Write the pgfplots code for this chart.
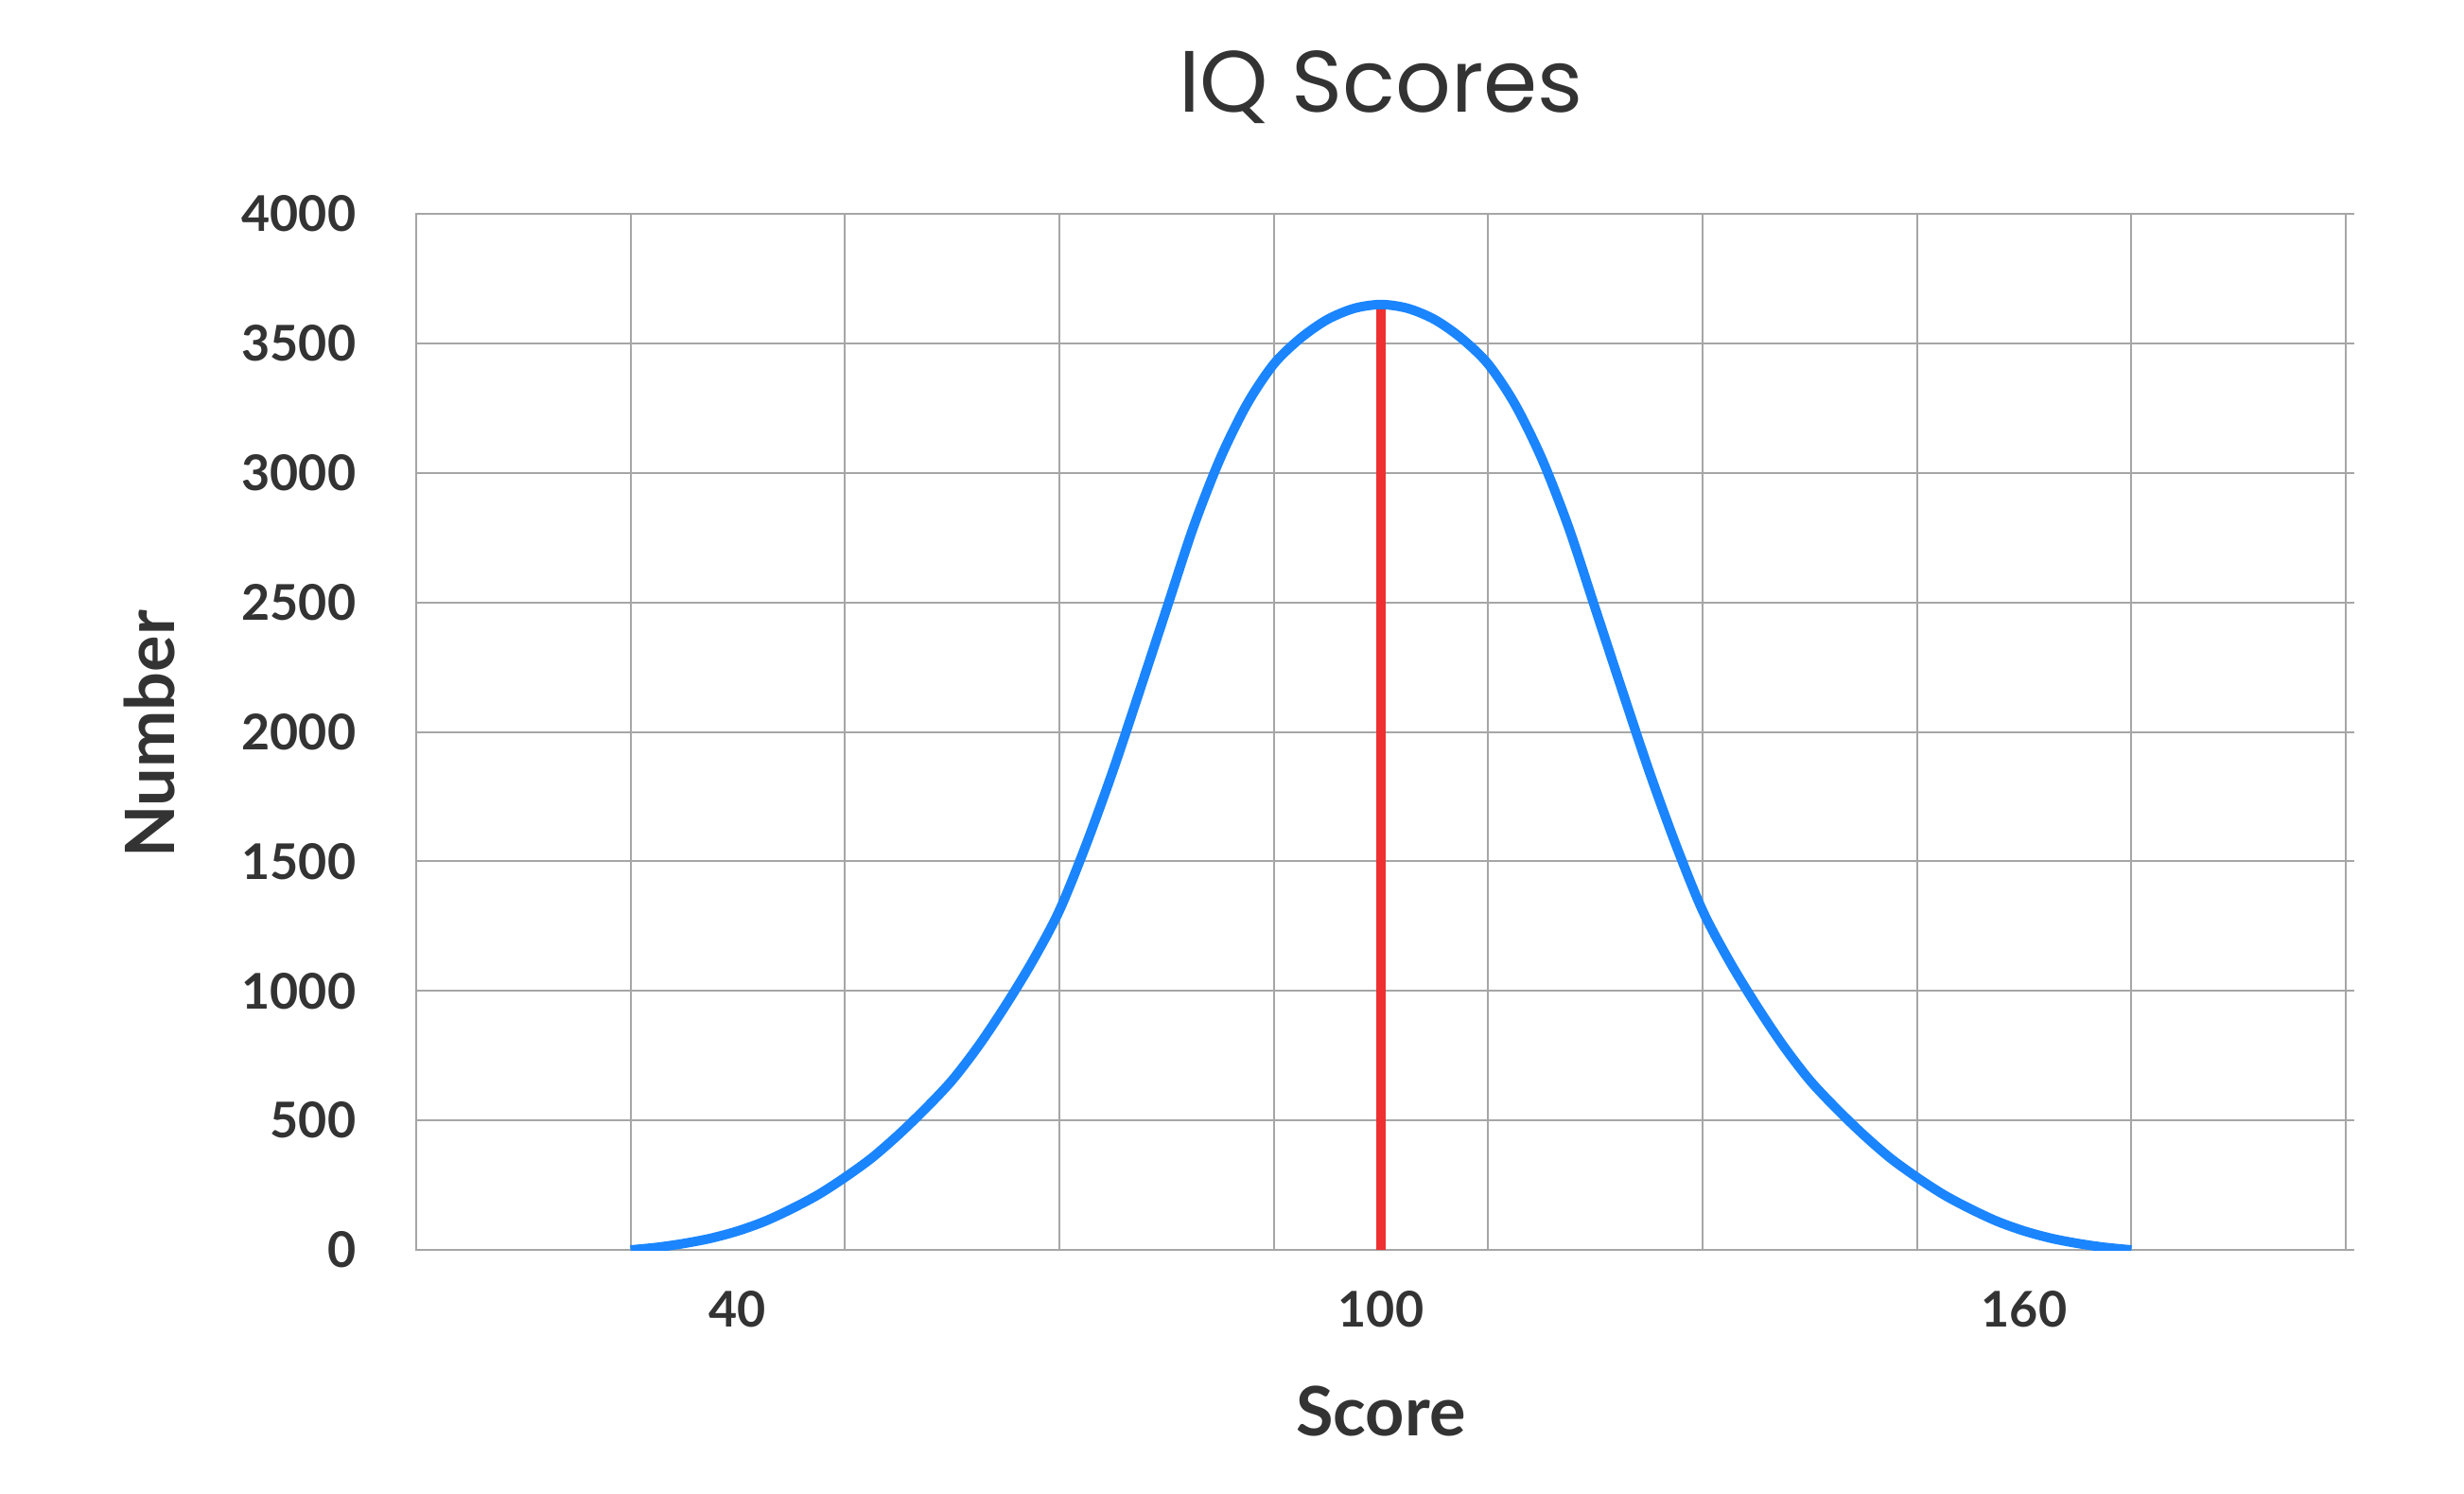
\documentclass[border=0pt]{standalone}
\usepackage{fontspec}
\setmainfont{Lato}
\newfontfamily\titlefont{Poppins}
\usepackage{pgfplots}
\usepackage{pgfplotstable}
\pgfplotsset{compat=1.18}

\definecolor{curveblue}{HTML}{1A85FF}
\definecolor{meanred}{HTML}{EE3030}
\definecolor{gridgray}{HTML}{A6A6A6}
\definecolor{textgray}{HTML}{333333}

% IQ score distribution
\pgfplotstableread{
score number
30    0
32.5  10
35    25
37.5  45
40    73
42.5  110
45    158
47.5  213
50    280
52.5  355
55    445
57.5  545
60    655
62.5  790
65    945
67.5  1115
70    1310
72.5  1565
75    1850
77.5  2160
80    2475
82.5  2790
85    3055
87.5  3265
90    3420
92.5  3520
95    3592
97.5  3635
100   3650
102.5 3635
105   3592
107.5 3520
110   3420
112.5 3265
115   3055
117.5 2790
120   2475
122.5 2160
125   1850
127.5 1565
130   1310
132.5 1115
135   945
137.5 790
140   655
142.5 545
145   445
147.5 355
150   280
152.5 213
155   158
157.5 110
160   73
162.5 45
165   25
167.5 10
170   0
}\iqdata

\begin{document}
\begin{tikzpicture}
\begin{axis}[
    scale only axis,
    width=510pt, height=273.75pt,
    at={(0,0)}, anchor=south west,
    xmin=10, xmax=190, ymin=0, ymax=4000,
    xtick={40,100,160},
    minor xtick={10,30,...,190},
    ytick={0,500,...,4000},
    xmajorgrids=false, xminorgrids=true, ymajorgrids=true,
    grid style={gridgray, line width=0.5pt},
    minor grid style={gridgray, line width=0.5pt},
    axis line style={gridgray, line width=0.5pt},
    tick align=outside,
    major tick length=2.25pt,
    minor tick length=0pt,
    xtick style={draw=none},
    ytick style={gridgray, line width=0.5pt},
    ytick pos=right,
    yticklabel pos=left,
    scaled y ticks=false,
    /pgf/number format/1000 sep={},
    /pgf/number format/assume math mode=true,
    ticklabel style={font=\fontsize{13}{15}\selectfont\bfseries, text=textgray, inner sep=0pt},
    yticklabel style={anchor=east, xshift=-13.5pt},
    xticklabel style={anchor=north, yshift=-8.5pt},
]
    \addplot[meanred, line width=2.4pt] coordinates {(100,0) (100,3650)};
    \addplot[curveblue, line width=2.5pt, smooth] table[x=score, y=number] {\iqdata};
\end{axis}

\node[font=\titlefont\fontsize{23}{28}\selectfont, text=textgray, anchor=base]
    at (255pt,300.75pt) {IQ Scores};
\node[font=\fontsize{18}{21}\selectfont\bfseries, text=textgray, anchor=base]
    at (255pt,-49pt) {Score};
\node[font=\fontsize{18}{21}\selectfont\bfseries, text=textgray, rotate=90, anchor=center]
    at (-70.5pt,136.25pt) {Number};

\pgfresetboundingbox
\path (-110pt,-64.25pt) rectangle (541.25pt,330.25pt);
\end{tikzpicture}
\end{document}
